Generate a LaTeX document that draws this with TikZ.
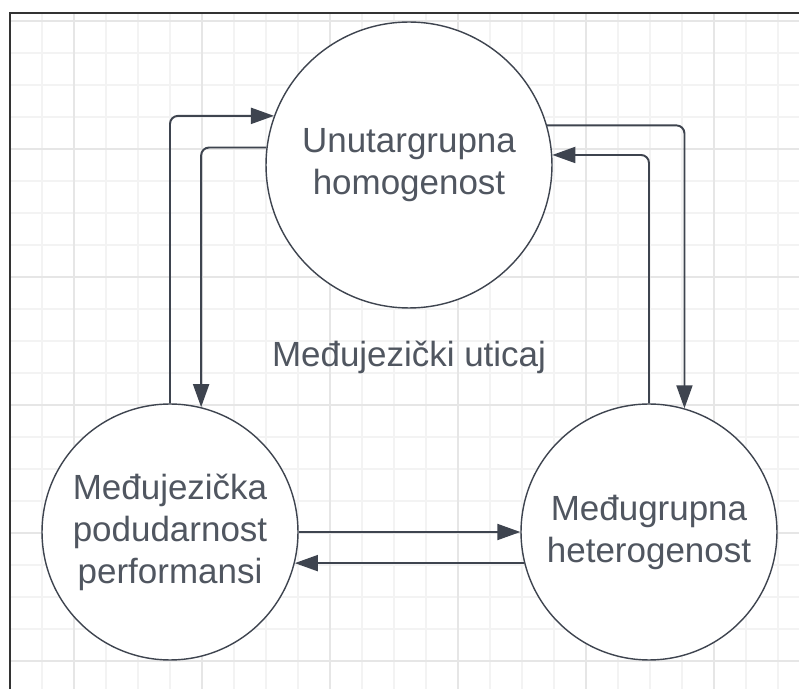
\documentclass[tikz,border=0pt]{standalone}
\usepackage{fontspec}
\setmainfont{Liberation Sans}
\usetikzlibrary{arrows.meta}

\definecolor{inkgray}{RGB}{62,68,79}
\definecolor{textgray}{RGB}{80,86,96}
\definecolor{gridminor}{RGB}{243,243,243}
\definecolor{gridmajor}{RGB}{230,230,230}

\tikzset{
  bubble/.style={circle, draw=inkgray, line width=0.8pt, fill=white, text=textgray,
    align=center, inner sep=0pt, font=\fontsize{19.9}{23.9}\selectfont},
  flow/.style={draw=inkgray, line width=1.1pt, rounded corners=0.16cm,
    -{Triangle[length=0.46cm,width=0.32cm]}}
}

\begin{document}
\begin{tikzpicture}[x=0.02cm,y=-0.02cm]
            \useasboundingbox (0,0) rectangle (799,689);
            \fill[white] (0,0) rectangle (799,689);
            % grid paper
            \foreach \gx in {42,74,...,794} \draw[gridminor, line width=0.6pt] (\gx,13) -- (\gx,689);
            \foreach \gy in {21,53,...,689} \draw[gridminor, line width=0.6pt] (10,\gy) -- (799,\gy);
            \foreach \gx in {74,202,...,794} \draw[gridmajor, line width=0.6pt] (\gx,13) -- (\gx,689);
            \foreach \gy in {21,149,...,689} \draw[gridmajor, line width=0.6pt] (10,\gy) -- (799,\gy);
            \draw[black!80, line width=0.8pt] (10,689) -- (10,13) -- (799,13);

            % the three circles
            \node[bubble, minimum size=5.72cm] (homog) at (409,165) {Unutargrupna\\homogenost};
            \node[bubble, minimum size=5.12cm] (podud) at (170,532) {Međujezička\\podudarnost\\performansi};
            \node[bubble, minimum size=5.12cm] (heter) at (649,532) {Međugrupna\\heterogenost};
            \node[text=textgray, font=\fontsize{19.9}{23.9}\selectfont] (uticaj) at (409,357) {Međujezički uticaj};

            % arrows
            \draw[flow] (podud.north) |- (homog.160.8);
            \draw[flow] (homog.173.2) -| (podud.76.4);
            \draw[flow] (homog.16.7) -| (heter.74.6);
            \draw[flow] (heter.north) |- (homog.4);
            \draw[flow] (podud.east) -- (heter.west);
            \draw[flow] (heter.194) -- (podud.-14);
        \end{tikzpicture}
\end{document}
